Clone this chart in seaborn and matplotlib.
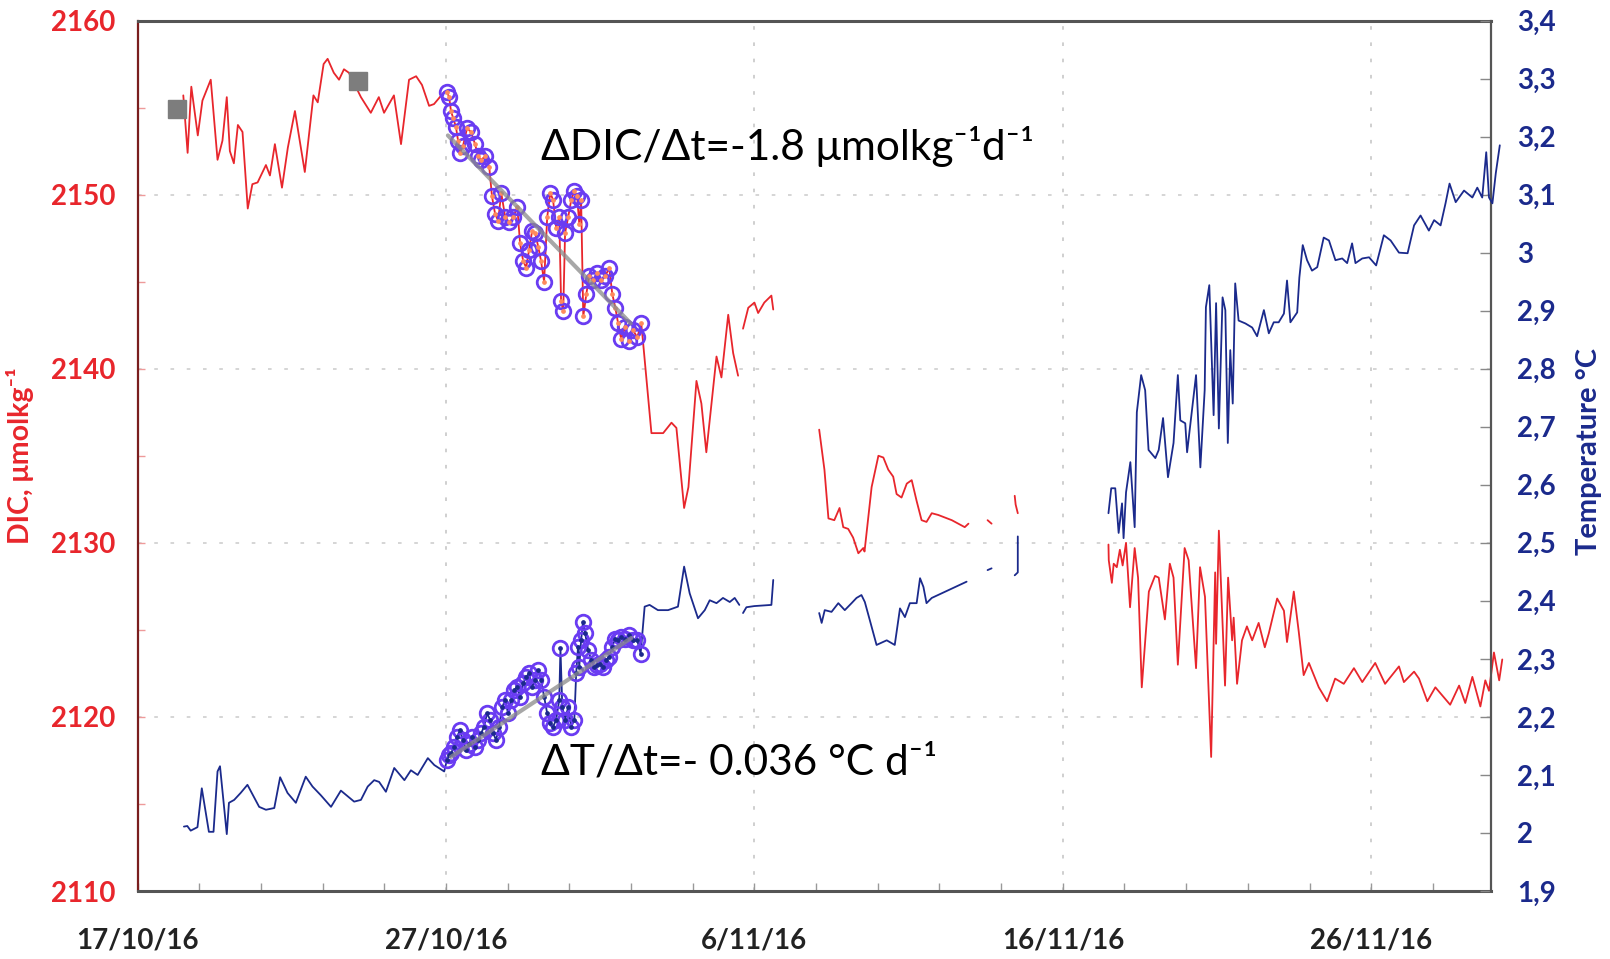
import numpy as np
import pandas as pd
import matplotlib
matplotlib.use('Agg')
import matplotlib.pyplot as plt
import seaborn as sns

nan = np.nan

# days since 17/10/16
dic_pre_day = [1.48, 1.62, 1.74, 1.95, 2.10, 2.37, 2.59, 2.75, 2.89, 2.99, 3.12, 3.25, 3.40, 3.57, 3.72,
               3.89, 4.16, 4.29, 4.45, 4.68, 4.87, 5.10, 5.42, 5.70, 5.84, 6.03, 6.16, 6.36, 6.53, 6.69,
               6.85, 7.24, 7.56, 7.82, 7.99, 8.31, 8.54, 8.80, 9.03, 9.22, 9.45, 9.61, 9.94]
dic_pre = [2155.7, 2152.4, 2156.2, 2153.4, 2155.4, 2156.6, 2152.0, 2153.1, 2155.6, 2152.5, 2151.8, 2154.0,
           2153.6, 2149.2, 2150.6, 2150.7, 2151.7, 2151.1, 2152.9, 2150.4, 2152.7, 2154.8, 2151.3, 2155.7,
           2155.3, 2157.5, 2157.8, 2157.0, 2156.6, 2157.2, 2157.0, 2155.6, 2154.7, 2155.6, 2154.7, 2155.7,
           2152.9, 2156.6, 2156.8, 2156.3, 2155.1, 2155.2, 2155.9]

dic_fit_day = [10.03, 10.10, 10.16, 10.23, 10.32, 10.39, 10.45, 10.55, 10.68, 10.81, 10.94, 11.04, 11.14,
               11.27, 11.40, 11.49, 11.59, 11.69, 11.79, 11.92, 12.05, 12.18, 12.31, 12.40, 12.50, 12.60,
               12.69, 12.79, 12.89, 12.99, 13.08, 13.18, 13.28, 13.38, 13.47, 13.57, 13.67, 13.73, 13.80,
               13.86, 13.96, 14.06, 14.16, 14.25, 14.32, 14.38, 14.45, 14.55, 14.64, 14.77, 14.90, 15.03,
               15.16, 15.29, 15.39, 15.49, 15.58, 15.68, 15.81, 15.94, 16.07, 16.20, 16.33]
dic_fit = [2155.9, 2155.6, 2154.8, 2154.4, 2153.9, 2153.1, 2152.4, 2152.8, 2153.8, 2153.6, 2152.9, 2152.2,
           2152.0, 2152.2, 2151.6, 2149.9, 2148.9, 2148.5, 2150.1, 2148.7, 2148.4, 2148.7, 2149.3, 2147.2,
           2146.2, 2145.8, 2146.8, 2147.9, 2147.8, 2147.0, 2146.2, 2145.0, 2148.7, 2150.1, 2149.7, 2148.1,
           2148.7, 2143.9, 2143.3, 2147.8, 2148.7, 2149.7, 2150.2, 2149.9, 2148.3, 2149.7, 2143.0, 2144.3,
           2145.3, 2145.1, 2145.5, 2145.1, 2145.3, 2145.8, 2144.3, 2143.5, 2142.6, 2141.7, 2142.4, 2141.6,
           2142.2, 2141.8, 2142.6]

# nan = gap in the record
dic_post_day = [16.39, 16.66, 16.87, 17.04, 17.31, 17.47, 17.72, 17.86, 18.12, 18.28, 18.44, 18.77, 18.93,
                19.15, 19.31, 19.47, nan,
                19.63, 19.80, 20.00, 20.12, 20.32, 20.55, 20.61, nan,
                22.10, 22.27, 22.40, 22.59, 22.76, 22.88, 23.04, 23.20, 23.37, 23.53, 23.57, 23.80, 24.02,
                24.18, 24.34, 24.50, 24.61, 24.77, 24.94, 25.10, 25.26, 25.42, 25.58, 25.75, 25.96, 26.40,
                26.82, 26.94, nan,
                27.56, 27.69, nan,
                28.44, 28.47, 28.54, nan,
                31.48, 31.49, 31.59, 31.65, 31.75, 31.85, 31.94, 32.05, 32.18, 32.33, 32.44, 32.56, 32.79,
                32.99, 33.11, 33.31, 33.47, 33.59, 33.73, 33.95, 34.08, 34.32, 34.45, 34.61, 34.81, 34.94,
                34.97, 35.06, 35.26, 35.36, 35.49, 35.54, 35.65, 35.81, 35.97, 36.14, 36.35, 36.55, 36.68,
                36.95, 37.17, 37.27, 37.49, 37.65, 37.81, 37.98, 38.30, 38.57, 38.83, 39.11, 39.44, 39.71,
                40.13, 40.45, 40.90, 41.06, 41.39, 41.55, 41.82, 42.08, 42.56, 42.85, 43.05, 43.28, 43.54,
                43.70, 43.82, 43.98, 44.15, 44.25]
dic_post = [2141.5, 2136.3, 2136.3, 2136.3, 2136.9, 2136.6, 2132.0, 2133.2, 2139.3, 2138.0, 2135.2, 2140.7,
            2139.5, 2143.1, 2140.9, 2139.6, nan,
            2142.3, 2143.5, 2143.8, 2143.2, 2143.8, 2144.2, 2143.4, nan,
            2136.5, 2134.2, 2131.4, 2131.3, 2132.0, 2130.9, 2130.8, 2130.3, 2129.4, 2129.7, 2129.5, 2133.2,
            2135.0, 2134.9, 2134.2, 2133.8, 2132.8, 2132.6, 2133.4, 2133.6, 2132.4, 2131.3, 2131.2, 2131.7,
            2131.6, 2131.3, 2130.9, 2131.1, nan,
            2131.3, 2131.1, nan,
            2132.7, 2132.2, 2131.7, nan,
            2129.9, 2129.0, 2127.7, 2128.8, 2128.6, 2129.6, 2128.7, 2130.0, 2126.3, 2129.7, 2128.0, 2121.7,
            2127.2, 2128.1, 2128.0, 2125.6, 2128.8, 2128.0, 2123.0, 2129.7, 2129.0, 2122.8, 2128.6, 2126.9,
            2117.7, 2128.3, 2124.2, 2130.7, 2121.8, 2128.0, 2124.4, 2125.7, 2121.9, 2124.4, 2125.2, 2124.4,
            2125.4, 2124.0, 2124.8, 2126.8, 2126.1, 2124.3, 2127.2, 2124.9, 2122.4, 2123.1, 2121.7, 2120.9,
            2122.2, 2121.9, 2122.8, 2122.0, 2123.1, 2121.9, 2122.9, 2122.0, 2122.6, 2122.2, 2120.9, 2121.7,
            2120.7, 2121.8, 2120.8, 2122.3, 2120.6, 2122.1, 2121.5, 2123.7, 2122.1, 2123.3]

temp_pre_day = [1.50, 1.61, 1.72, 1.94, 2.08, 2.31, 2.46, 2.59, 2.67, 2.89, 2.96, 3.13, 3.34, 3.56, 3.94,
                4.16, 4.43, 4.62, 4.86, 5.13, 5.45, 5.67, 5.94, 6.27, 6.59, 7.02, 7.24, 7.46, 7.67, 7.83,
                8.05, 8.32, 8.65, 8.86, 9.08, 9.41, 9.62, 9.94]
temp_pre = [2.011, 2.012, 2.004, 2.010, 2.077, 2.002, 2.002, 2.106, 2.115, 1.998, 2.052, 2.057, 2.069,
            2.083, 2.045, 2.040, 2.043, 2.096, 2.069, 2.052, 2.097, 2.080, 2.065, 2.045, 2.073, 2.054,
            2.057, 2.080, 2.091, 2.088, 2.071, 2.112, 2.091, 2.108, 2.100, 2.129, 2.117, 2.106]

temp_fit_day = [10.03, 10.10, 10.16, 10.26, 10.36, 10.45, 10.55, 10.65, 10.75, 10.84, 10.94, 11.04, 11.14,
                11.23, 11.33, 11.43, 11.53, 11.62, 11.72, 11.82, 11.92, 12.01, 12.11, 12.21, 12.31, 12.40,
                12.50, 12.60, 12.69, 12.79, 12.89, 12.99, 13.08, 13.18, 13.28, 13.38, 13.47, 13.57, 13.67,
                13.71, 13.77, 13.86, 13.96, 14.06, 14.16, 14.22, 14.28, 14.32, 14.38, 14.44, 14.51, 14.61,
                14.71, 14.81, 14.90, 15.00, 15.10, 15.19, 15.29, 15.39, 15.49, 15.58, 15.68, 15.81, 15.94,
                16.07, 16.20, 16.31]
temp_fit = [2.126, 2.134, 2.137, 2.149, 2.166, 2.177, 2.160, 2.143, 2.154, 2.166, 2.149, 2.160, 2.172,
            2.183, 2.206, 2.195, 2.172, 2.160, 2.183, 2.217, 2.229, 2.206, 2.229, 2.246, 2.252, 2.235,
            2.258, 2.269, 2.275, 2.252, 2.263, 2.281, 2.263, 2.235, 2.206, 2.189, 2.183, 2.195, 2.229,
            2.318, 2.217, 2.195, 2.217, 2.183, 2.195, 2.275, 2.321, 2.286, 2.332, 2.364, 2.344, 2.315,
            2.298, 2.286, 2.289, 2.292, 2.286, 2.298, 2.304, 2.321, 2.335, 2.332, 2.338, 2.335, 2.341,
            2.332, 2.332, 2.309]

temp_post_day = [16.44, 16.60, 16.87, 17.20, 17.52, 17.72, 17.90, 18.17, 18.39, 18.55, 18.77, 18.98, 19.20,
                 19.36, 19.51, nan,
                 19.63, 19.74, 20.00, 20.55, 20.61, nan,
                 22.10, 22.18, 22.28, 22.50, 22.72, 22.93, 23.15, 23.31, 23.47, 23.58, 23.74, 23.96, 24.29,
                 24.55, 24.72, 24.88, 25.04, 25.26, 25.37, 25.48, 25.58, 25.75, 26.88, nan,
                 27.56, 27.69, nan,
                 28.44, 28.54, 28.54, nan,
                 31.48, 31.57, 31.70, 31.81, 31.92, 31.97, 32.05, 32.19, 32.33, 32.40, 32.54, 32.67, 32.78,
                 33.00, 33.11, 33.25, 33.41, 33.59, 33.73, 33.81, 33.97, 34.03, 34.32, 34.46, 34.60, 34.64,
                 34.75, 34.89, 34.97, 35.06, 35.18, 35.27, 35.35, 35.43, 35.51, 35.59, 35.70, 35.92, 36.14,
                 36.30, 36.52, 36.68, 36.84, 37.00, 37.17, 37.27, 37.38, 37.60, 37.67, 37.78, 37.92, 38.08,
                 38.25, 38.46, 38.63, 38.84, 39.06, 39.22, 39.38, 39.49, 39.71, 39.93, 40.16, 40.41, 40.63,
                 40.90, 41.18, 41.39, 41.60, 41.87, 42.04, 42.25, 42.41, 42.54, 42.74, 43.01, 43.28, 43.44,
                 43.60, 43.73, 43.82, 43.93, 44.04, 44.17]
temp_post = [2.390, 2.393, 2.384, 2.384, 2.390, 2.459, 2.413, 2.370, 2.384, 2.401, 2.396, 2.405, 2.398,
             2.405, 2.393, nan,
             2.379, 2.389, 2.391, 2.393, 2.436, nan,
             2.379, 2.362, 2.384, 2.381, 2.396, 2.384, 2.396, 2.405, 2.410, 2.398, 2.367, 2.324, 2.332,
             2.324, 2.387, 2.372, 2.396, 2.396, 2.439, 2.424, 2.396, 2.405, 2.433, nan,
             2.453, 2.456, nan,
             2.444, 2.449, 2.511, nan,
             2.551, 2.594, 2.594, 2.517, 2.568, 2.508, 2.587, 2.639, 2.527, 2.725, 2.789, 2.763, 2.660,
             2.646, 2.660, 2.715, 2.613, 2.672, 2.789, 2.711, 2.706, 2.656, 2.789, 2.630, 2.763, 2.906,
             2.944, 2.720, 2.913, 2.697, 2.923, 2.901, 2.672, 2.832, 2.740, 2.947, 2.883, 2.878, 2.871,
             2.856, 2.901, 2.861, 2.880, 2.880, 2.895, 2.952, 2.880, 2.897, 2.957, 3.013, 2.987, 2.969,
             2.975, 3.026, 3.021, 2.987, 2.990, 2.982, 3.016, 2.982, 2.990, 2.992, 2.978, 3.030, 3.021,
             3.000, 2.999, 3.047, 3.064, 3.038, 3.056, 3.047, 3.085, 3.119, 3.087, 3.107, 3.095, 3.112,
             3.095, 3.173, 3.095, 3.085, 3.137, 3.185]

# grey square markers
square_day = [1.27, 7.13]
square_dic = [2154.9, 2156.5]

# trend lines
dic_trend_day = [10.06, 15.99]
dic_trend = [2153.4, 2142.6]
temp_trend_day = [10.16, 16.01]
temp_trend = [2.131, 2.336]

dic_ticks = [2110, 2120, 2130, 2140, 2150, 2160]
temp_ticks = [1.9, 2.0, 2.1, 2.2, 2.3, 2.4, 2.5, 2.6, 2.7, 2.8, 2.9, 3.0, 3.1, 3.2, 3.3, 3.4]
temp_tick_labels = ['1,9', '2', '2,1', '2,2', '2,3', '2,4', '2,5', '2,6', '2,7', '2,8', '2,9', '3',
                    '3,1', '3,2', '3,3', '3,4']
date_tick_day = [0, 10, 20, 30, 40]
date_tick_labels = ['17/10/16', '27/10/16', '6/11/16', '16/11/16', '26/11/16']

start = pd.Timestamp('2016-10-17')
RED = '#e8262c'
NAVY = '#1b2a8c'
PURPLE = '#6a3cf2'
GREY = '#8a8a8a'


def to_dates(days):
    return start + pd.to_timedelta(np.asarray(days, dtype=float), unit='D')


def series(days, vals):
    df = pd.DataFrame({'date': to_dates(days), 'val': np.asarray(vals, dtype=float)})
    df['seg'] = df['val'].isna().cumsum()
    return df.dropna()


dic_df = series(dic_pre_day + dic_fit_day + dic_post_day, dic_pre + dic_fit + dic_post)
temp_df = series(temp_pre_day + temp_fit_day + temp_post_day, temp_pre + temp_fit + temp_post)

sns.set_theme(style='white')
plt.rcParams['font.family'] = ['Lato', 'DejaVu Sans']

fig = plt.figure(figsize=(16.1, 9.59), dpi=100)
ax = fig.add_axes([0.0855, 0.0709, 0.8405, 0.9077])
ax2 = ax.twinx()

# DIC
sns.lineplot(data=dic_df, x='date', y='val', units='seg', estimator=None, sort=False,
             color=RED, lw=1.3, ax=ax, clip_on=False, zorder=3)
ax.plot(to_dates(square_day), square_dic, ls='none', marker='s', ms=13, color='#7d7d7d', zorder=4)
ax.plot(to_dates(dic_fit_day), dic_fit, ls='none', marker='o', ms=10.5, mfc='none',
        mec=PURPLE, mew=2.0, zorder=5)
ax.plot(to_dates(dic_fit_day), dic_fit, ls='none', marker='o', ms=2.4, color='#ff8a5c', zorder=5)
ax.plot(to_dates(dic_trend_day), dic_trend, color=GREY, lw=3.0, alpha=0.75, zorder=6)

# temperature
sns.lineplot(data=temp_df, x='date', y='val', units='seg', estimator=None, sort=False,
             color=NAVY, lw=1.3, ax=ax2, clip_on=False, zorder=3)
ax2.plot(to_dates(temp_fit_day), temp_fit, ls='none', marker='o', ms=10.5, mfc='none',
         mec=PURPLE, mew=2.0, zorder=5)
ax2.plot(to_dates(temp_fit_day), temp_fit, ls='none', marker='o', ms=2.4, color=NAVY, zorder=5)
ax2.plot(to_dates(temp_trend_day), temp_trend, color=GREY, lw=3.0, alpha=0.75, zorder=6)

ax.set_xlim(to_dates([0, 43.88]))
ax.set_ylim(2110, 2160)
ax2.set_ylim(1.9, 3.4)
ax.set_xlabel('')
ax.set_ylabel('')
ax2.set_ylabel('')

ax.set_xticks(to_dates(date_tick_day), date_tick_labels, fontsize=20, fontweight='bold', color='#222222')
ax.set_xticks(to_dates(np.arange(0, 44, 2)), minor=True)
ax.tick_params(axis='x', which='both', direction='in', length=6, width=1, color='#999999',
               pad=26, bottom=True)
ax.set_yticks(dic_ticks, [str(t) for t in dic_ticks], fontsize=20, fontweight='bold', color=RED)
ax.set_yticks(np.arange(2115, 2160, 10), minor=True)
ax.tick_params(axis='y', which='both', direction='in', length=5, width=1, color='#ee9a9a',
               pad=16, left=True)
ax2.set_yticks(temp_ticks, temp_tick_labels, fontsize=20, fontweight='bold', color=NAVY)
ax2.tick_params(axis='y', direction='in', length=8, width=1, color='#888888', pad=19, right=True)

ax.grid(True, axis='x', which='major', color='#cccccc', lw=1.3, ls=(0, (2, 7)))
ax.grid(True, axis='y', which='major', color='#d2d2d2', lw=1.3, ls=(0, (2, 7)))
ax2.grid(False)

for side in ['top', 'bottom']:
    ax.spines[side].set_color('#555555')
    ax.spines[side].set_linewidth(2.2)
ax.spines['left'].set_color('#7a1e1e')
ax.spines['left'].set_linewidth(1.6)
ax.spines['right'].set_visible(False)
for side in ['top', 'bottom', 'left']:
    ax2.spines[side].set_visible(False)
ax2.spines['right'].set_color('#555555')
ax2.spines['right'].set_linewidth(1.6)

ax2.text(0.298, 0.855, 'ΔDIC/Δt=-1.8 μmolkg⁻¹d⁻¹', transform=ax.transAxes, fontsize=30.5,
         color='black', va='center', ha='left', zorder=10)
ax2.text(0.298, 0.148, 'ΔT/Δt=- 0.036 °C d⁻¹', transform=ax.transAxes, fontsize=30.5,
         color='black', va='center', ha='left', zorder=10)

fig.text(0.0127, 0.525, 'DIC, μmolkg⁻¹', rotation=90, color=RED, fontsize=20.5,
         fontweight='bold', ha='center', va='center')
fig.text(0.987, 0.529, 'Temperature °C', rotation=90, color=NAVY, fontsize=21,
         fontweight='bold', ha='center', va='center')

fig.savefig('out.png', dpi=100)
